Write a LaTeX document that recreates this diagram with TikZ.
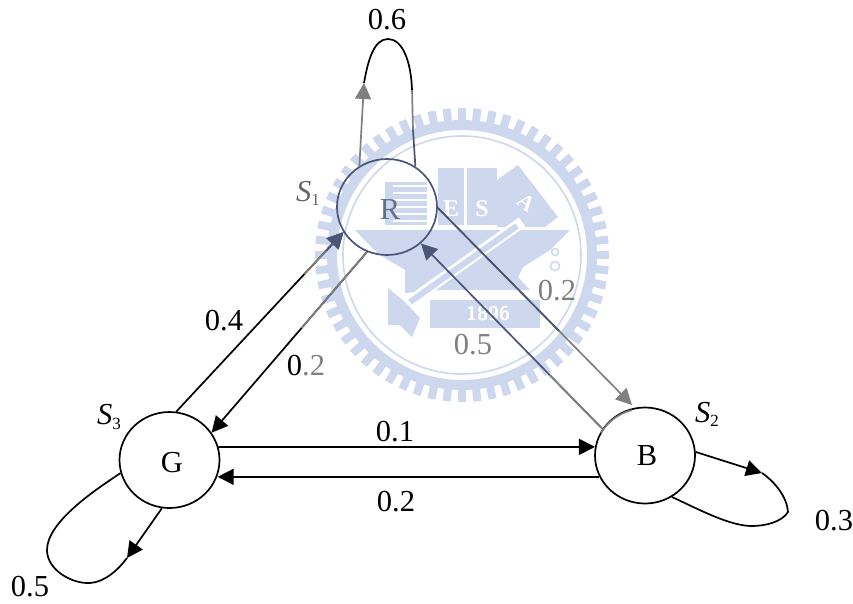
\documentclass[tikz,border=0pt]{standalone}
\usepackage{fontspec}
\setmainfont{Liberation Serif}
\usetikzlibrary{arrows.meta,shapes.geometric,calc}
\definecolor{seal}{HTML}{CDD8EE}
\definecolor{slate}{HTML}{4A5578}
\definecolor{midgray}{HTML}{808080}
\newcommand\Sname[2]{\textit{#1}\raisebox{-0.3ex}{\fontsize{17}{17}\selectfont #2}}
% a path in black, with a stretch of it (between two heights) in another colour
\newcommand\band[4]{\begin{scope}\clip (0,#2) rectangle (853,#3);\draw[conn,#4] #1;\end{scope}}
\tikzset{
  state/.style={ellipse,draw,line width=1.7pt,minimum width=100pt,minimum height=96pt,inner sep=0pt,fill=none},
  conn/.style={line width=1.7pt,line cap=butt},
  head/.style={-{Triangle[length=16pt,width=16pt]}},
  lab/.style={font=\fontsize{30.5}{30.5}\selectfont,inner sep=0pt},
  sealfill/.style={fill=seal,draw=none},
}
\begin{document}
\begin{tikzpicture}[x=1pt,y=-1pt]
\useasboundingbox (0,0) rectangle (853,603);
\fill[white] (0,0) rectangle (853,603);
% watermark seal
\foreach \a in {0,6,...,354}{
  \draw[seal,line width=8pt] ($(462,255)+(\a:130)$) -- ($(462,255)+(\a:147)$);
}
\draw[seal,line width=10pt] (462,255) circle[radius=130];
\draw[seal,line width=1.6pt] (462,255) circle[radius=119];
\fill[sealfill] (385,182) rectangle (427,225);
\foreach \yy in {186,193,200,207,214,221}{\draw[white,line width=1.2pt] (393,\yy) -- (427,\yy);}
\fill[sealfill] (438,168) rectangle (464,225);
\fill[sealfill] (467,168) rectangle (497,225);
\fill[sealfill] (497,180) -- (518,165) -- (558,217) -- (545,227) -- (497,227) -- cycle;
\node[white,font=\fontsize{24}{24}\selectfont\bfseries,inner sep=0pt] (sealE) at (451,209) {E};
\node[white,font=\fontsize{24}{24}\selectfont\bfseries,inner sep=0pt] (sealS) at (482,209) {S};
\node[white,font=\fontsize{22}{22}\selectfont\bfseries,inner sep=0pt,rotate=-38] (sealA) at (526,203) {A};
\fill[sealfill] (355,230) -- (570,230) -- (550,250) -- (523,267) -- (518,277) -- (530,290) -- (440,290) -- (405,293) -- (405,270) -- (377,253) -- cycle;
\draw[white,line width=11pt] (522,222) -- (408,303);
\draw[seal,line width=6pt] (517,226) -- (410,302);
\fill[sealfill] (388,288) -- (405,302) -- (420,318) -- (412,337) -- (400,325) -- (388,325) -- cycle;
\fill[sealfill] (430,300) rectangle (540,328);
\node[white,font=\fontsize{20}{20}\selectfont\bfseries\sffamily,inner sep=0pt] (sealY) at (488,314) {1896};
\draw[seal,line width=1.5pt] (555,252) circle[radius=3.5] (555,266) circle[radius=4.5];

% states
\node[state,draw=slate,label={[text=slate!85!white,font=\fontsize{30.5}{30.5}\selectfont,xshift=3pt,yshift=-3pt]center:R}] (R) at (387,207) {};
\node[state,label={[font=\fontsize{30.5}{30.5}\selectfont,xshift=2.5pt,yshift=-3pt]center:G}] (G) at (169.5,460) {};
\node[state,label={[font=\fontsize{30.5}{30.5}\selectfont,xshift=2pt,yshift=0pt]center:B}] (B) at (645,455.5) {};
\begin{scope}\clip (580,400) rectangle (632,432);
\draw[midgray,line width=1.7pt] (B.center) ellipse[x radius=50,y radius=47];
\end{scope}

% free points of the connectors
\coordinate (tipR) at (364,83);
\coordinate (tipG) at (127,558);
\coordinate (tipB) at (762,473);
\coordinate (endRB) at (632,405);

% G -> R
\draw[conn,head] (G.82) -- (R.210);
\band{[head] (G.82) -- (R.210)}{0}{273}{midgray}
\band{[head] (G.82) -- (R.210)}{0}{250}{slate}
% R -> G
\draw[conn,head] (R.246) -- (G.33);
\band{(R.246) -- (G.33)}{0}{327}{midgray}
% G -> B, B -> G
\draw[conn,head] (G.15) -- (B.170 |- G.15);
\draw[conn,head] (B.205) -- (G.-18 |- B.205);
% R -> B
\draw[conn,head,draw=midgray] (R.-1) -- (endRB);
\band{(R.-1) -- (endRB)}{0}{330}{slate}
% B -> R
\draw[conn,head,draw=slate] (B.148) -- (R.-47);
\band{(B.148) -- (R.-47)}{375}{440}{midgray}
% loop R
\draw[conn] (tipR) .. controls (368,60) and (374,39) .. (388,39)
   .. controls (402,39) and (411,60) .. (412,90);
\draw[conn,midgray] (412,90) -- (413,130);
\draw[conn,slate] (413,130) -- (R.55);
\draw[conn,head,draw=midgray] (R.124) -- (tipR);
% loop G
\draw[conn] (G.195) .. controls (95,490) and (47,522) .. (47,550)
  .. controls (47,570) and (72,584) .. (90,583)
  .. controls (105,582) and (118,570) .. (tipG);
\draw[conn,head] (G.-99) -- (tipG);
% loop B
\draw[conn,head] (B.4) -- (tipB);
\draw[conn] (tipB) .. controls (775,482) and (787,497) .. (788,512)
  .. controls (782,522) and (765,526) .. (752,526)
  .. controls (730,526) and (700,510) .. (B.-57);

% labels
\node[lab] (p6) at (387,20) {0.6};
\node[lab] (p4) at (224,321) {0.4};
\node[lab] (p2a) at (306,366) {0\textcolor{midgray}{.2}};
\node[lab] (p1) at (395,432) {0.1};
\node[lab] (p2b) at (396,502) {0.2};
\node[lab] (p3) at (834,521) {0.3};
\node[lab] (p5) at (30,587) {0.5};
\node[lab,text=midgray] (p2c) at (557,291) {0.2};
\node[lab,text=midgray] (p5b) at (473,345) {0.5};
\node[lab,text=black!60] (s1) at (308,193) {\Sname{S}{1}};
\node[lab] (s2) at (707,414) {\Sname{S}{2}};
\node[lab] (s3) at (109,417) {\Sname{S}{3}};
\end{tikzpicture}
\end{document}
